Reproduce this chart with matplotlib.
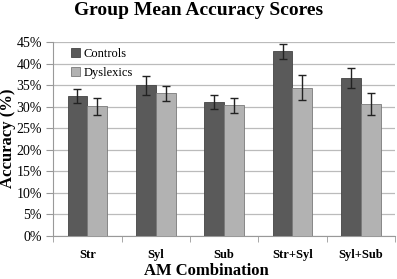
import matplotlib.pyplot as plt
import numpy as np

categories = ["Str", "Syl", "Sub", "Str+Syl", "Syl+Sub"]
controls = [32.5, 35.0, 31.1, 42.9, 36.6]
controls_err = [1.6, 2.2, 1.6, 1.7, 2.3]
dyslexics = [30.1, 33.1, 30.3, 34.4, 30.7]
dyslexics_err = [2.0, 1.8, 1.7, 2.9, 2.5]

serif = ['Liberation Serif', 'DejaVu Serif']
plt.rcParams['font.family'] = serif

fig = plt.figure(figsize=(3.97, 2.79), dpi=100)
ax = fig.add_axes([0.134, 0.154, 0.861, 0.695])

x = np.arange(len(categories))
w = 0.29
ekw = dict(elinewidth=1.0, capthick=1.0, ecolor='#222222')
ax.bar(x - w / 2, controls, w, yerr=controls_err, capsize=3, color='#5a5a5a',
       edgecolor='#444444', linewidth=0.6, label='Controls', error_kw=ekw, zorder=3)
ax.bar(x + w / 2, dyslexics, w, yerr=dyslexics_err, capsize=3, color='#b2b2b2',
       edgecolor='#7a7a7a', linewidth=0.6, label='Dyslexics', error_kw=ekw, zorder=3)

ax.set_xlim(-0.5, len(categories) - 0.5)
ax.set_ylim(0, 45)
ax.set_yticks(range(0, 46, 5))
ax.set_yticklabels(["%d%%" % v for v in range(0, 46, 5)], fontsize=10, family=serif)
ax.set_xticks(x)
ax.set_xticklabels(categories, fontsize=9, fontweight='bold', family=serif)
ax.tick_params(axis='x', length=0, pad=9)
ax.set_xticks(np.arange(-0.5, len(categories), 1), minor=True)
ax.tick_params(axis='x', which='minor', length=4, color='#999999')
ax.tick_params(axis='y', length=5, color='#999999', pad=3)

ax.yaxis.grid(True, color='#bbbbbb', linewidth=0.9, zorder=0)
ax.set_axisbelow(True)
for s in ['top', 'right']:
    ax.spines[s].set_visible(False)
for s in ['left', 'bottom']:
    ax.spines[s].set_color('#999999')

fig.text(0.5, 0.962, "Group Mean Accuracy Scores", fontsize=14, fontweight='bold',
         ha='center', va='center', family=serif)
fig.text(0.021, 0.505, "Accuracy (%)", fontsize=12, fontweight='bold', rotation=90,
         ha='center', va='center', family=serif)
fig.text(0.52, 0.03, "AM Combination", fontsize=12, fontweight='bold',
         ha='center', va='center', family=serif)

ax.legend(loc='upper left', bbox_to_anchor=(0.02, 1.03), frameon=False,
          prop={'family': serif, 'size': 9},
          handlelength=0.7, handleheight=0.7, handletextpad=0.3, labelspacing=0.6)

fig.savefig("out.png", dpi=100)
